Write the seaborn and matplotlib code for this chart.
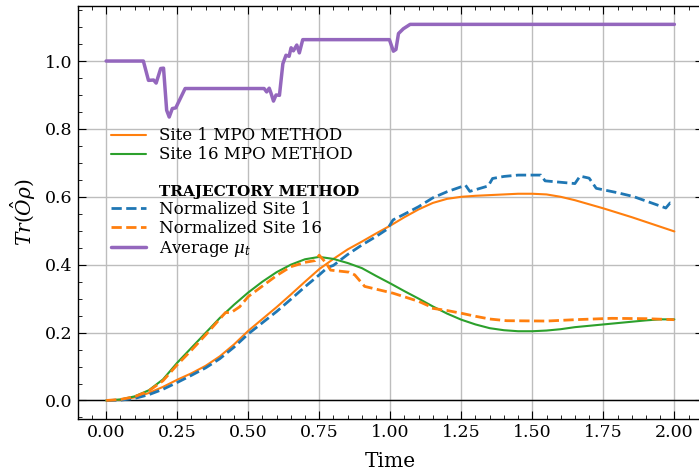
import numpy as np
import pandas as pd
import seaborn as sns
import matplotlib
matplotlib.use("Agg")
import matplotlib.pyplot as plt
from matplotlib.lines import Line2D
from matplotlib.ticker import AutoMinorLocator

# --- Site 1, MPO method ---
t_mpo1 = [0.00, 0.05, 0.10, 0.15, 0.20, 0.25, 0.30, 0.35, 0.40, 0.45, 0.50,
          0.55, 0.60, 0.65, 0.70, 0.75, 0.80, 0.85, 0.90, 0.95, 1.00,
          1.05, 1.10, 1.15, 1.20, 1.25, 1.30, 1.35, 1.40, 1.45, 1.50,
          1.55, 1.60, 1.65, 1.70, 1.75, 1.80, 1.85, 1.90, 1.95, 2.00]
v_mpo1 = [0.000, 0.002, 0.009, 0.022, 0.040, 0.061, 0.080, 0.102, 0.130, 0.165, 0.205,
          0.240, 0.275, 0.312, 0.350, 0.387, 0.417, 0.445, 0.468, 0.492, 0.515,
          0.540, 0.563, 0.582, 0.594, 0.600, 0.603, 0.605, 0.607, 0.609, 0.609,
          0.607, 0.600, 0.590, 0.578, 0.566, 0.553, 0.540, 0.526, 0.512, 0.498]

# --- Site 16, MPO method ---
t_mpo16 = t_mpo1
v_mpo16 = [0.000, 0.003, 0.012, 0.030, 0.062, 0.111, 0.155, 0.199, 0.243, 0.282, 0.318,
           0.350, 0.378, 0.400, 0.416, 0.423, 0.417, 0.405, 0.390, 0.367, 0.345,
           0.322, 0.300, 0.277, 0.256, 0.238, 0.224, 0.213, 0.207, 0.204, 0.204,
           0.206, 0.210, 0.216, 0.220, 0.224, 0.228, 0.232, 0.236, 0.239, 0.239]

# --- Trajectory method, normalized site 1 ---
t_traj1 = [0.00, 0.05, 0.10, 0.15, 0.20, 0.25, 0.30, 0.35, 0.40, 0.45, 0.50,
           0.55, 0.60, 0.65, 0.70, 0.75, 0.78, 0.80, 0.85, 0.90, 0.95, 0.99,
           1.01, 1.05, 1.10, 1.15, 1.20, 1.265, 1.28, 1.345, 1.36, 1.40, 1.45,
           1.53, 1.545, 1.65, 1.668, 1.70, 1.725, 1.80, 1.855, 1.97, 1.985, 2.00]
v_traj1 = [0.000, 0.001, 0.006, 0.017, 0.033, 0.053, 0.074, 0.096, 0.123, 0.157, 0.196,
           0.229, 0.262, 0.298, 0.335, 0.370, 0.392, 0.398, 0.430, 0.458, 0.483, 0.505,
           0.532, 0.549, 0.571, 0.597, 0.615, 0.634, 0.616, 0.632, 0.654, 0.660, 0.664,
           0.664, 0.647, 0.639, 0.661, 0.655, 0.625, 0.612, 0.601, 0.567, 0.582, 0.580]

# --- Trajectory method, normalized site 16 ---
t_traj16 = [0.00, 0.05, 0.10, 0.15, 0.20, 0.25, 0.30, 0.35, 0.40, 0.42, 0.44,
            0.47, 0.50, 0.55, 0.60, 0.65, 0.70, 0.735, 0.75, 0.775, 0.79,
            0.855, 0.875, 0.91, 0.96, 1.01, 1.10, 1.14, 1.145, 1.20, 1.25,
            1.30, 1.35, 1.41, 1.55, 1.65, 1.78, 1.90, 2.00]
v_traj16 = [0.000, 0.003, 0.011, 0.028, 0.058, 0.105, 0.148, 0.193, 0.240, 0.259, 0.259,
            0.276, 0.306, 0.337, 0.368, 0.394, 0.407, 0.412, 0.428, 0.404, 0.384,
            0.378, 0.370, 0.336, 0.326, 0.316, 0.292, 0.277, 0.272, 0.265, 0.257,
            0.248, 0.240, 0.235, 0.234, 0.238, 0.242, 0.241, 0.238]

# --- Average mu_t ---
t_mu = [0.000, 0.131, 0.149, 0.167, 0.176, 0.192, 0.202, 0.213, 0.222, 0.233, 0.245,
        0.278, 0.556, 0.565, 0.574, 0.580, 0.589, 0.598, 0.610, 0.622, 0.633,
        0.644, 0.651, 0.659, 0.671, 0.680, 0.692, 0.997, 1.011, 1.020, 1.029,
        1.046, 1.070, 2.000]
v_mu = [1.000, 1.000, 0.943, 0.944, 0.935, 0.978, 0.979, 0.855, 0.835, 0.860, 0.862,
        0.919, 0.919, 0.909, 0.920, 0.906, 0.882, 0.900, 0.899, 0.992, 1.017,
        1.014, 1.039, 1.030, 1.047, 1.024, 1.063, 1.063, 1.029, 1.034, 1.081,
        1.095, 1.108, 1.108]

x_ticks = [0.00, 0.25, 0.50, 0.75, 1.00, 1.25, 1.50, 1.75, 2.00]
y_ticks = [0.0, 0.2, 0.4, 0.6, 0.8, 1.0]

sns.set_style("whitegrid")
plt.rcParams.update({
    "font.family": ["DejaVu Serif"],
    "mathtext.fontset": "dejavuserif",
    "font.size": 12.5,
    "text.color": "black",
    "axes.labelcolor": "black",
    "axes.edgecolor": "black",
    "axes.linewidth": 1.0,
    "grid.color": "#bdbdbd",
    "grid.linewidth": 1.0,
    "xtick.direction": "in",
    "ytick.direction": "in",
    "xtick.top": True,
    "ytick.right": True,
    "xtick.bottom": True,
    "ytick.left": True,
    "xtick.major.size": 6,
    "ytick.major.size": 6,
    "xtick.minor.size": 3,
    "ytick.minor.size": 3,
    "xtick.minor.visible": True,
    "ytick.minor.visible": True,
    "xtick.color": "black",
    "ytick.color": "black",
    "xtick.labelcolor": "black",
    "ytick.labelcolor": "black",
})

pal = sns.color_palette("tab10")
c_blue, c_orange, c_green, c_purple = pal[0], pal[1], pal[2], pal[4]

fig = plt.figure(figsize=(6.99, 4.71), dpi=100)
ax = fig.add_axes([0.1112, 0.1098, 0.8942, 0.8781])

ax.axhline(0, color="black", lw=1.0, zorder=1.5)

sns.lineplot(x=t_mpo1, y=v_mpo1, ax=ax, color=c_orange, lw=1.5,
             estimator=None, sort=False, label="Site 1 MPO METHOD")
sns.lineplot(x=t_mpo16, y=v_mpo16, ax=ax, color=c_green, lw=1.5,
             estimator=None, sort=False, label="Site 16 MPO METHOD")
sns.lineplot(x=t_traj1, y=v_traj1, ax=ax, color=c_blue, lw=2.0, linestyle="--",
             estimator=None, sort=False, label="Normalized Site 1")
sns.lineplot(x=t_traj16, y=v_traj16, ax=ax, color=c_orange, lw=2.0, linestyle="--",
             estimator=None, sort=False, label="Normalized Site 16")
sns.lineplot(x=t_mu, y=v_mu, ax=ax, color=c_purple, lw=2.5,
             estimator=None, sort=False, label=r"Average $\mu_t$")

ax.set_xlim(-0.1, 2.1)
ax.set_ylim(-0.0554, 1.163)
ax.set_xticks(x_ticks)
ax.set_xticklabels([f"{v:.2f}" for v in x_ticks])
ax.set_yticks(y_ticks)
ax.set_yticklabels([f"{v:.1f}" for v in y_ticks])
ax.xaxis.set_minor_locator(AutoMinorLocator(5))
ax.yaxis.set_minor_locator(AutoMinorLocator(4))
ax.tick_params(which="both", top=True, right=True, labelsize=12.5)
ax.grid(True, which="major")
ax.grid(False, which="minor")

ax.set_xlabel("Time", fontsize=14.5, labelpad=8)
ax.set_ylabel(r"$Tr(\hat{O}\rho)$", fontsize=14.5, labelpad=5)

lines = {l.get_label(): l for l in ax.get_lines()}
blank = Line2D([], [], alpha=0)
handles = [lines["Site 1 MPO METHOD"], lines["Site 16 MPO METHOD"], blank, blank,
           lines["Normalized Site 1"], lines["Normalized Site 16"], lines[r"Average $\mu_t$"]]
labels = ["Site 1 MPO METHOD", "Site 16 MPO METHOD", " ", "TRAJECTORY METHOD",
          "Normalized Site 1", "Normalized Site 16", r"Average $\mu_t$"]
leg = ax.legend(handles, labels, loc="upper left", bbox_to_anchor=(0.0425, 0.722),
                frameon=False, fontsize=12, handlelength=2.1, handletextpad=0.8,
                labelspacing=0.12, borderaxespad=0.0)
for txt in leg.get_texts():
    txt.set_color("black")
leg.get_texts()[3].set_fontweight("bold")
leg.get_texts()[3].set_fontsize(11)

fig.savefig("out.png", dpi=100)
